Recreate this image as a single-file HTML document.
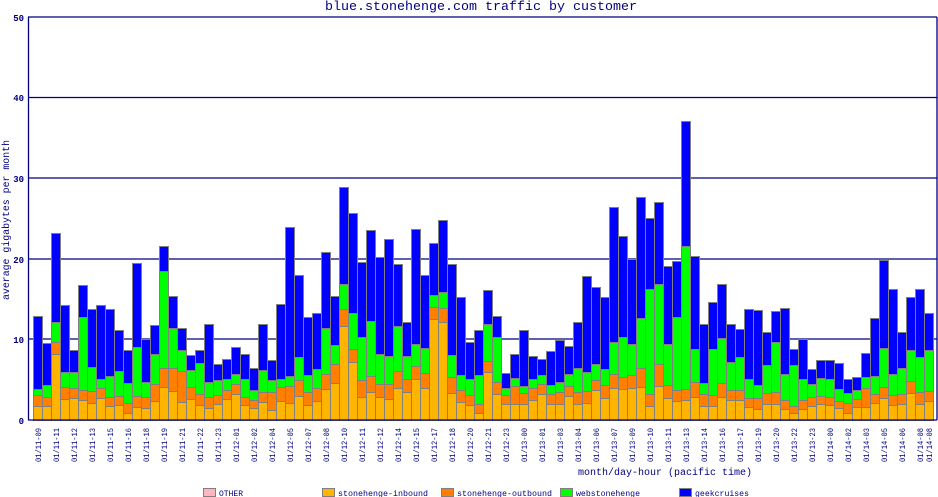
<!DOCTYPE html>
<html><head><meta charset="utf-8"><style>
html,body{margin:0;padding:0;background:#fff;}
svg{display:block;}
text{font-family:"Liberation Mono",monospace;fill:#000080;}
</style></head><body>
<svg id="s" width="938" height="497" xmlns="http://www.w3.org/2000/svg">
<rect x="0" y="0" width="938" height="497" fill="#fff"/>
<text x="481" y="10" font-size="13" text-anchor="middle" textLength="312" lengthAdjust="spacingAndGlyphs">blue.stonehenge.com traffic by customer</text>
<text x="0" y="0" font-size="10" transform="translate(9,300) rotate(-90)" textLength="160" lengthAdjust="spacingAndGlyphs">average gigabytes per month</text>
<text x="578" y="475" font-size="10" textLength="174" lengthAdjust="spacingAndGlyphs">month/day-hour (pacific time)</text>
<g stroke="#000080" stroke-width="1.3" fill="none">
<line x1="28" y1="97.5" x2="937" y2="97.5"/>
<line x1="28" y1="178" x2="937" y2="178"/>
<line x1="28" y1="259" x2="937" y2="259"/>
<line x1="28" y1="339" x2="937" y2="339"/>
</g>
<g id="bars"></g>
<g stroke="#000080" stroke-width="1.3" fill="none">
<line x1="28" y1="17" x2="937" y2="17"/>
<line x1="28" y1="420" x2="937" y2="420"/>
<line x1="28.5" y1="17" x2="28.5" y2="420"/>
<line x1="937" y1="17" x2="937" y2="420"/>
</g>
<g font-size="9" font-weight="bold" text-anchor="end">
<text x="24" y="21">50</text><text x="24" y="101">40</text><text x="24" y="182">30</text>
<text x="24" y="263">20</text><text x="24" y="343">10</text><text x="24" y="424">0</text>
</g>
<g id="xl" font-size="8"></g>
<g font-size="8">
<rect x="203.5" y="488.5" width="12" height="8" fill="#ffb6c1" stroke="#808080"/><text x="219" y="496" textLength="24" lengthAdjust="spacingAndGlyphs">OTHER</text>
<rect x="322.5" y="488.5" width="12" height="8" fill="#ffb400" stroke="#808080"/><text x="338" y="496" textLength="90" lengthAdjust="spacingAndGlyphs">stonehenge-inbound</text>
<rect x="441.5" y="488.5" width="12" height="8" fill="#ff8000" stroke="#808080"/><text x="457" y="496" textLength="95" lengthAdjust="spacingAndGlyphs">stonehenge-outbound</text>
<rect x="560.5" y="488.5" width="12" height="8" fill="#00ff00" stroke="#808080"/><text x="576" y="496" textLength="64" lengthAdjust="spacingAndGlyphs">webstonehenge</text>
<rect x="679.5" y="488.5" width="12" height="8" fill="#0000ff" stroke="#808080"/><text x="695" y="496" textLength="54" lengthAdjust="spacingAndGlyphs">geekcruises</text>
</g>
</svg>
<script>
var D=[[316,389,395,406],[343,385,397,406],[233,322,342,354],[305,372,387,399],[350,372,388,398],[285,317,390,400],[309,367,391,403],[305,379,388,398],[309,376,397,406],[330,371,396,405],
[350,383,403,413],[263,347,396,407],[339,382,397,408],[325,354,384,401],[246,271,368,387],[296,328,368,391],[328,350,371,402],[355,370,387,399],[350,363,394,405],[324,382,397,408],
[364,380,395,404],[359,379,390,399],[347,374,384,394],[354,379,397,405],[368,390,400,408],[324,370,392,402],[360,380,392,410],[304,379,387,401],[227,376,386,403],[275,357,380,396],
[317,375,392,405],[313,369,388,401],[252,328,374,389],[296,345,364,383],[187,284,309,326],[213,313,349,362],[262,337,380,397],[230,321,376,392],[257,354,384,397],[239,356,384,399],
[264,326,371,388],[322,356,379,392],[229,344,366,379],[275,348,373,388],[243,295,307,319],[220,292,308,322],[264,355,377,393],[297,375,390,402],[342,379,395,405],[330,375,404,413],
[290,324,361,372],[316,337,382,394],[373,388,395,404],[354,378,386,404],[330,386,393,404],[356,379,388,400],[359,375,384,394],[351,385,394,404],[340,382,392,404],[346,374,386,396],
[322,368,392,404],[276,372,391,403],[287,364,380,390],[297,369,385,398],[207,342,374,388],[236,337,377,389],[259,344,375,388],[197,318,368,387],[218,289,394,406],[202,284,364,386],
[266,344,385,398],[261,317,390,401],[121,246,389,400],[256,349,382,397],[324,383,394,406],[302,349,395,406],[284,338,383,397],[324,362,390,400],[329,357,390,400],[309,379,398,407],
[310,385,398,409],[332,365,393,404],[311,342,392,404],[308,374,400,409],[349,365,406,413],[339,379,400,409],[369,384,397,406],[360,378,396,404],[360,379,397,405],[363,389,401,408],
[379,393,403,413],[377,390,399,407],[353,377,388,407],[318,376,394,403],[260,348,387,398],[289,374,395,405],[332,368,394,404],[297,350,381,393],[289,357,392,404],[313,350,391,401]];
var NS="http://www.w3.org/2000/svg",g=document.getElementById("bars");
function r(x,y1,y2,c){if(y2-y1<=0)return;var e=document.createElementNS(NS,"rect");e.setAttribute("x",x);e.setAttribute("y",y1+0.5);e.setAttribute("width",9);e.setAttribute("height",y2-y1);e.setAttribute("fill",c);e.setAttribute("stroke","#808080");g.appendChild(e);}
D.forEach(function(d,i){var x=33.5+9*i;r(x,d[3],420,"#ffb400");r(x,d[2],d[3],"#ff8000");r(x,d[1],d[2],"#00ff00");r(x,d[0],d[1],"#0000ff");});
var L=["01/11-09","01/11-11","01/11-12","01/11-13","01/11-15","01/11-16","01/11-18","01/11-19","01/11-21","01/11-22","01/11-23","01/12-01","01/12-02","01/12-04","01/12-05","01/12-07","01/12-08","01/12-10","01/12-11","01/12-12","01/12-14","01/12-15","01/12-17","01/12-18","01/12-20","01/12-21","01/12-23","01/13-00","01/13-01","01/13-03","01/13-04","01/13-06","01/13-07","01/13-09","01/13-10","01/13-11","01/13-13","01/13-14","01/13-16","01/13-17","01/13-19","01/13-20","01/13-22","01/13-23","01/14-00","01/14-02","01/14-03","01/14-05","01/14-06","01/14-08","01/14-08"];
var xl=document.getElementById("xl");
L.forEach(function(s,k){var bi=k<50?2*k:99;var cx=38+9*bi;var t=document.createElementNS(NS,"text");t.setAttribute("transform","translate("+(cx+3)+",462) rotate(-90)");t.setAttribute("textLength","34");t.setAttribute("lengthAdjust","spacingAndGlyphs");t.textContent=s;xl.appendChild(t);});
</script>
</body></html>
